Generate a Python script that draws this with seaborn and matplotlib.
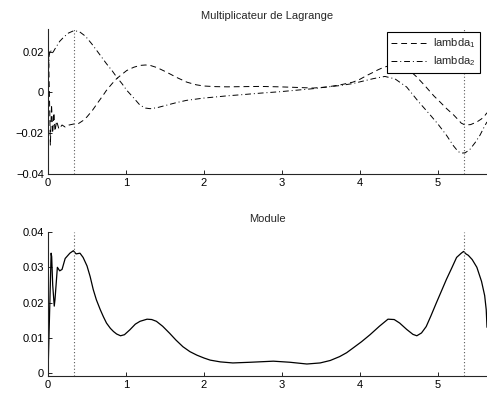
import numpy as np
import matplotlib
matplotlib.use('Agg')
import matplotlib.pyplot as plt
import seaborn as sns

# ── data ──
lam1_x = [0, 0.008, 0.02, 0.03, 0.045, 0.06, 0.075, 0.09, 0.11, 0.14, 0.18, 0.22, 0.27, 0.33,
          0.39, 0.45, 0.5, 0.57, 0.645, 0.7, 0.75, 0.82, 0.88, 0.95, 1.01, 1.1, 1.18, 1.25,
          1.31, 1.4, 1.52, 1.65, 1.78, 1.9, 2.0, 2.15, 2.3, 2.5, 2.72, 2.97, 3.2, 3.4, 3.57,
          3.74, 3.91, 4.0, 4.09, 4.17, 4.23, 4.3, 4.38, 4.45, 4.55, 4.65, 4.73, 4.83, 4.95,
          5.03, 5.11, 5.2, 5.27, 5.3, 5.35, 5.42, 5.5, 5.56, 5.6, 5.63]
lam1_y = [0.0, 0.017, -0.005, -0.026, -0.006, -0.020, -0.010, -0.019, -0.014, -0.018, -0.016,
          -0.017, -0.016, -0.0155, -0.0153, -0.0138, -0.012, -0.0088, -0.0047, -0.0018, 0.001,
          0.0042, 0.0067, 0.0089, 0.0107, 0.0123, 0.0132, 0.0134, 0.0132, 0.0121, 0.0099,
          0.0073, 0.005, 0.0037, 0.0031, 0.0028, 0.0027, 0.0028, 0.0029, 0.0027, 0.0024,
          0.0021, 0.0026, 0.0036, 0.005, 0.0064, 0.0083, 0.0098, 0.011, 0.0122, 0.0131,
          0.0133, 0.0125, 0.0103, 0.0075, 0.0034, -0.0018, -0.0048, -0.0079, -0.011, -0.0138,
          -0.0151, -0.0160, -0.0158, -0.0145, -0.0130, -0.0115, -0.0100]

lam2_x = [0, 0.015, 0.03, 0.05, 0.07, 0.1, 0.15, 0.2, 0.26, 0.33, 0.4, 0.48, 0.56, 0.65,
          0.75, 0.82, 0.88, 0.95, 1.01, 1.1, 1.18, 1.25, 1.31, 1.4, 1.52, 1.65, 1.78, 2.0, 2.3,
          2.5, 2.72, 2.97, 3.2, 3.4, 3.57, 3.74, 3.91, 4.05, 4.17, 4.32, 4.45, 4.6, 4.75, 4.9,
          5.0, 5.11, 5.2, 5.26, 5.3, 5.35, 5.41, 5.48, 5.54, 5.6, 5.63]
lam2_y = [0.005, 0.018, 0.021, 0.019, 0.020, 0.022, 0.025, 0.027, 0.029, 0.0302, 0.0298,
          0.0275, 0.0238, 0.0192, 0.014, 0.0107, 0.0075, 0.0042, 0.001, -0.0028, -0.0063,
          -0.0077, -0.008, -0.0075, -0.0063, -0.005, -0.0039, -0.0028, -0.0017, -0.0011,
          -0.0004, 0.0003, 0.0011, 0.0018, 0.0026, 0.0033, 0.0043, 0.0056, 0.0067, 0.0078,
          0.0066, 0.0026, -0.0045, -0.011, -0.0155, -0.021, -0.0262, -0.029, -0.0298,
          -0.0296, -0.028, -0.0245, -0.021, -0.0165, -0.0145]

mod_x = [0, 0.04, 0.047, 0.06, 0.08, 0.09, 0.12, 0.15, 0.18, 0.22, 0.28, 0.325, 0.36, 0.41,
         0.45, 0.5, 0.54, 0.58, 0.62, 0.67, 0.71, 0.75, 0.8, 0.84, 0.88, 0.93, 0.98, 1.05,
         1.12, 1.18, 1.27, 1.33, 1.39, 1.47, 1.56, 1.64, 1.73, 1.82, 1.91, 2.0, 2.08, 2.21,
         2.37, 2.6, 2.89, 3.1, 3.32, 3.49, 3.62, 3.74, 3.83, 3.91, 4.02, 4.13, 4.25, 4.36,
         4.44, 4.51, 4.6, 4.68, 4.73, 4.79, 4.85, 4.91, 4.98, 5.05, 5.11, 5.18, 5.24, 5.3,
         5.33, 5.36, 5.39, 5.44, 5.5, 5.56, 5.6, 5.62, 5.63]
mod_y = [0, 0.034, 0.033, 0.025, 0.019, 0.021, 0.030, 0.029, 0.0294, 0.0325, 0.034, 0.0347,
         0.0338, 0.034, 0.0328, 0.0304, 0.0274, 0.0237, 0.0208, 0.018, 0.016, 0.0142, 0.0127,
         0.0118, 0.0111, 0.0106, 0.0109, 0.0123, 0.0139, 0.0147, 0.0153, 0.0152, 0.0147,
         0.0133, 0.0113, 0.0094, 0.0075, 0.0061, 0.0051, 0.0043, 0.0037, 0.0032, 0.0029,
         0.0031, 0.0034, 0.0031, 0.0026, 0.0029, 0.0036, 0.0047, 0.0058, 0.0071, 0.0089,
         0.0109, 0.0133, 0.0153, 0.0152, 0.0142, 0.0124, 0.011, 0.0106, 0.0114, 0.0132,
         0.0162, 0.0199, 0.0235, 0.0266, 0.0299, 0.0328, 0.034, 0.0345, 0.0338, 0.0334,
         0.0322, 0.030, 0.026, 0.022, 0.018, 0.013]

marks = [1 / 3, 16 / 3]
XMAX = 5.63

sns.set_style('ticks')
plt.rcParams['font.family'] = ['Liberation Sans', 'DejaVu Sans']
plt.rcParams['mathtext.fontset'] = 'custom'
plt.rcParams['mathtext.rm'] = 'Liberation Sans'
plt.rcParams['xtick.direction'] = 'in'
plt.rcParams['ytick.direction'] = 'in'

fig = plt.figure(figsize=(4.87, 3.96), dpi=100)
fig.patch.set_facecolor('white')
ax1 = fig.add_axes([0.0986, 0.5606, 0.9014, 0.366])
ax2 = fig.add_axes([0.0986, 0.0505, 0.9014, 0.3636])


def _style(ax, title):
    for s in ['top', 'right']:
        ax.spines[s].set_visible(False)
    for s in ['left', 'bottom']:
        ax.spines[s].set_linewidth(0.8)
    ax.tick_params(labelsize=8, length=3, width=0.6, colors='k', pad=3)
    ax.set_title(title, fontsize=8, pad=7)
    ax.set_xlim(0, XMAX)
    ax.set_xticks(range(6))
    ax.set_xticklabels([str(i) for i in range(6)])
    ax.set_xlabel(''); ax.set_ylabel('')
    for m in marks:
        ax.axvline(m, color='0.35', linestyle=(0, (1, 2)), lw=0.8)


sns.lineplot(x=lam1_x, y=lam1_y, ax=ax1, color='k', lw=0.7, linestyle=(0, (6, 4)),
             label='lambda$_1$', sort=False)
sns.lineplot(x=lam2_x, y=lam2_y, ax=ax1, color='k', lw=0.7, linestyle=(0, (6, 3, 1, 3)),
             label='lambda$_2$', sort=False)
ax1.set_ylim(-0.04, 0.031)
ax1.set_yticks([-0.04, -0.02, 0, 0.02])
ax1.set_yticklabels(['\u22120.04', '\u22120.02', '0', '0.02'])
_style(ax1, 'Multiplicateur de Lagrange')
leg = ax1.legend(loc='upper right', bbox_to_anchor=(0.985, 0.98), fontsize=8,
                 handlelength=3.2, frameon=True, fancybox=False, borderpad=0.4,
                 labelspacing=0.4, handletextpad=0.6, borderaxespad=0)
leg.get_frame().set_edgecolor('k')
leg.get_frame().set_linewidth(0.8)
leg.get_frame().set_alpha(1)

sns.lineplot(x=mod_x, y=mod_y, ax=ax2, color='k', lw=0.9, sort=False)
ax2.set_ylim(-0.0008, 0.04)
ax2.set_yticks([0, 0.01, 0.02, 0.03, 0.04])
ax2.set_yticklabels(['0', '0.01', '0.02', '0.03', '0.04'])
_style(ax2, 'Module')

fig.savefig('out.png', dpi=100, facecolor='white')
